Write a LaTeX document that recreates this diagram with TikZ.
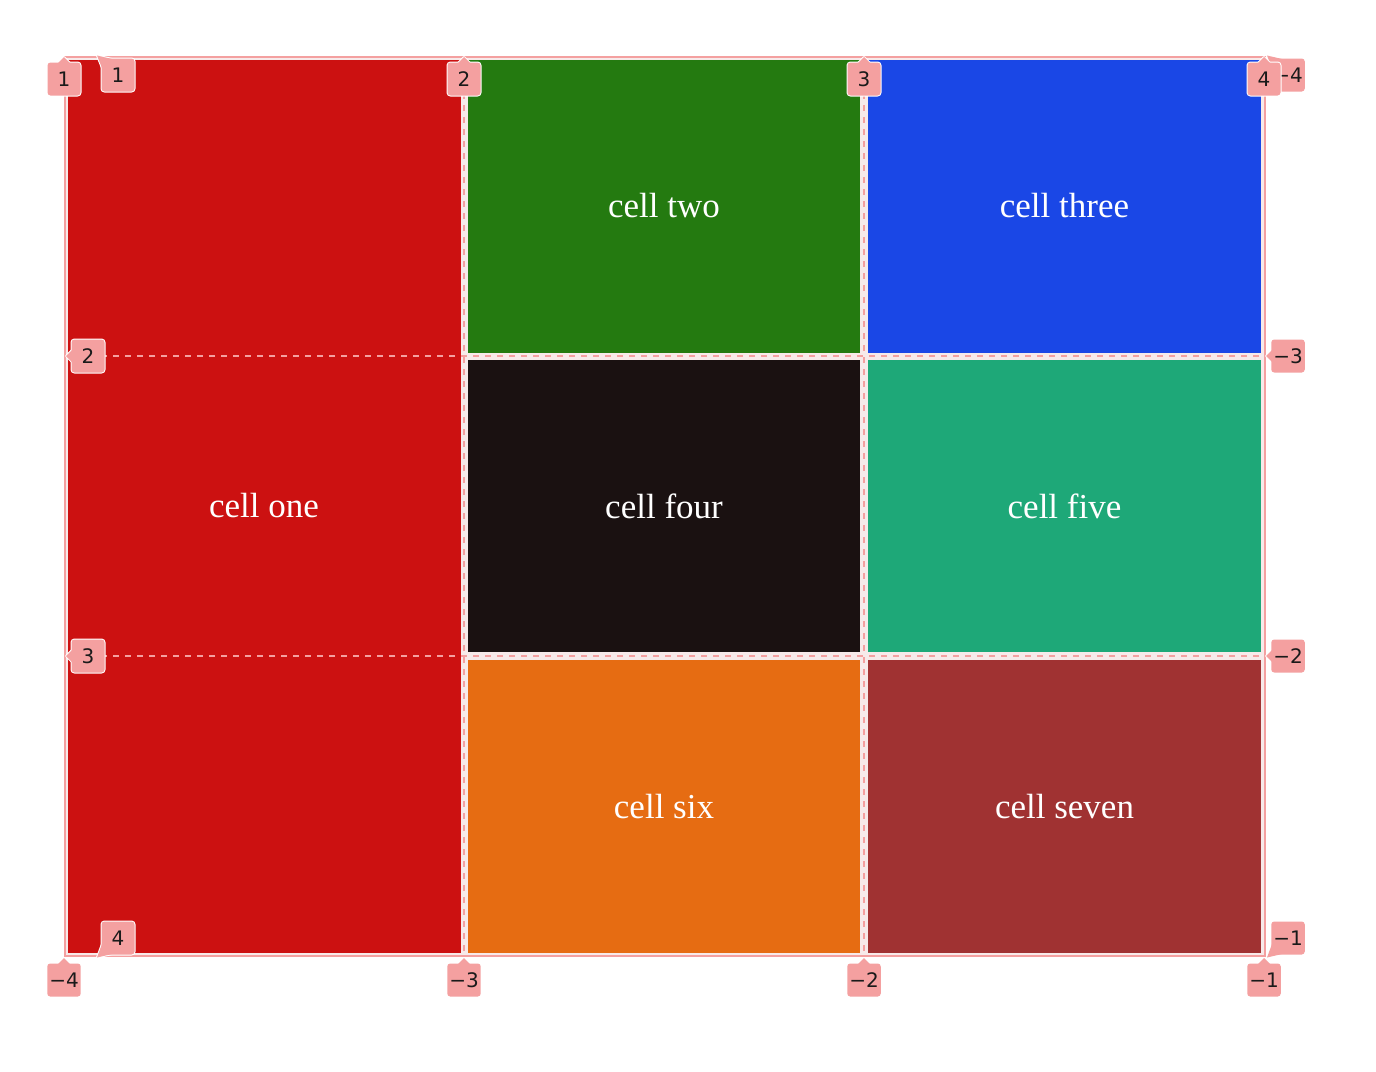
\documentclass[tikz,border=0pt]{standalone}
\usepackage{fontspec}
\setmainfont{Liberation Serif}
\newfontfamily\lblfont{DejaVu Sans}
\definecolor{cred}{HTML}{CC1111}
\definecolor{cgreen}{HTML}{247A10}
\definecolor{cblue}{HTML}{1A47E6}
\definecolor{cblack}{HTML}{1A1111}
\definecolor{cteal}{HTML}{1EA878}
\definecolor{corange}{HTML}{E66C12}
\definecolor{cbrown}{HTML}{A03232}
\definecolor{lblpink}{HTML}{F4A0A0}
\definecolor{gapfill}{HTML}{F7EAEA}
\definecolor{lbltext}{HTML}{1A1A1A}
\newcommand\gridlbl[4]{%
  \path[fill=lblpink, draw=white, line width=2pt, line join=round] #4;
  \node[lbl, draw=white, line width=2pt] at (#2) {\phantom{#3}};
  \fill[lblpink] #4;
  \node[lbl] (#1) at (#2) {#3};
}
\begin{document}
\begin{tikzpicture}[x=1pt,y=-1pt,
  cellbox/.style={rectangle, inner sep=0pt, text=white, font=\fontsize{35}{40}\selectfont},
  lbl/.style={rectangle, rounded corners=3pt, fill=lblpink, minimum size=33pt, inner sep=2pt,
    font=\lblfont\fontsize{20}{24}\selectfont, text=lbltext},
  gridline/.style={lblpink, line width=2pt, dash pattern=on 6pt off 6pt},
  gridborder/.style={lblpink, line width=2pt}]
\useasboundingbox (0,0) rectangle (1376,1071);
% grid area (gaps)
\fill[gapfill] (65,57) rectangle (1265,956);
% cells
\node[cellbox, fill=cred,    minimum width=393pt, minimum height=893pt] (c1) at (264,506) {cell one};
\node[cellbox, fill=cgreen,  minimum width=392pt, minimum height=293pt] (c2) at (664,206) {cell two};
\node[cellbox, fill=cblue,   minimum width=393pt, minimum height=293pt] (c3) at (1064.5,206) {cell three};
\node[cellbox, fill=cblack,  minimum width=392pt, minimum height=292pt] (c4) at (664,506) {cell four};
\node[cellbox, fill=cteal,   minimum width=393pt, minimum height=292pt] (c5) at (1064.5,506) {cell five};
\node[cellbox, fill=corange, minimum width=392pt, minimum height=293pt] (c6) at (664,806.5) {cell six};
\node[cellbox, fill=cbrown,  minimum width=393pt, minimum height=293pt] (c7) at (1064.5,806.5) {cell seven};
% grid lines
\draw[gridline] (464,57) -- (464,956);
\draw[gridline] (864,57) -- (864,956);
\draw[gridline] (65,356) -- (1265,356);
\draw[gridline] (65,656) -- (1265,656);
\draw[gridborder] (65,57) rectangle (1265,956);
% row labels
\gridlbl{rl1}{118,75}{1}{(102,68)--(97,55.5)--(112,59)--cycle}
\gridlbl{rl2}{88,356}{2}{(72,350)--(66,356)--(72,362)--cycle}
\gridlbl{rl3}{88,656}{3}{(72,650)--(66,656)--(72,662)--cycle}
\gridlbl{rl4}{118,938}{4}{(102,944)--(97,957.5)--(112,954)--cycle}
\gridlbl{rr4}{1288,75}{−4}{(1272,68)--(1267,55.5)--(1282,59)--cycle}
\gridlbl{rr3}{1288,356}{−3}{(1272,350)--(1266,356)--(1272,362)--cycle}
\gridlbl{rr2}{1288,656}{−2}{(1272,650)--(1266,656)--(1272,662)--cycle}
\gridlbl{rr1}{1288,938}{−1}{(1272,944)--(1267,957.5)--(1282,954)--cycle}
% column labels
\gridlbl{ct1}{64,79}{1}{(58,63)--(64,57)--(70,63)--cycle}
\gridlbl{ct2}{464,79}{2}{(458,63)--(464,57)--(470,63)--cycle}
\gridlbl{ct3}{864,79}{3}{(858,63)--(864,57)--(870,63)--cycle}
\gridlbl{ct4}{1264,79}{4}{(1258,63)--(1264,57)--(1270,63)--cycle}
\gridlbl{cb4}{64,980}{−4}{(58,964)--(64,958)--(70,964)--cycle}
\gridlbl{cb3}{464,980}{−3}{(458,964)--(464,958)--(470,964)--cycle}
\gridlbl{cb2}{864,980}{−2}{(858,964)--(864,958)--(870,964)--cycle}
\gridlbl{cb1}{1264,980}{−1}{(1258,964)--(1264,958)--(1270,964)--cycle}
\end{tikzpicture}
\end{document}
